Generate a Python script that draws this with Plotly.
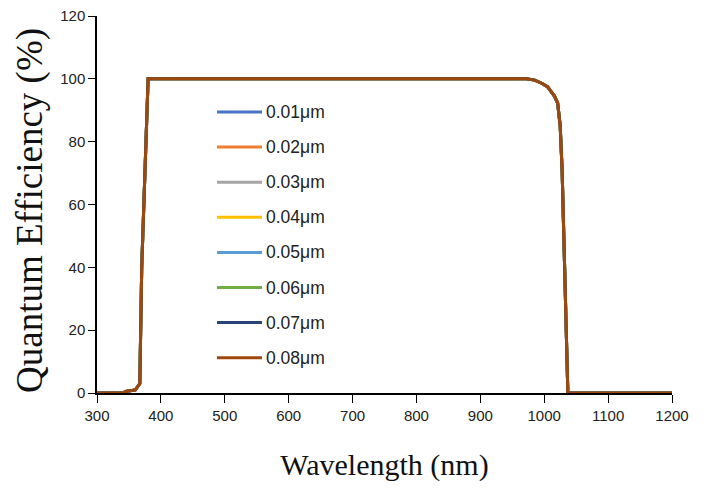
import plotly.graph_objects as go

# Quantum efficiency vs wavelength for several layer thicknesses
wavelength = [300, 340, 345, 360, 367, 370, 380, 500, 700, 900, 972, 985, 996, 1005, 1011, 1016, 1021, 1025, 1028, 1032, 1037, 1100, 1200]
qe = [0, 0, 0.5, 1, 3, 40, 100, 100, 100, 100, 100, 99.6, 98.6, 97.5, 96, 94.5, 92.3, 85, 71, 40, 0, 0, 0]

thickness_labels = ["0.01μm", "0.02μm", "0.03μm", "0.04μm", "0.05μm", "0.06μm", "0.07μm", "0.08μm"]
colors = ["#4472C4", "#ED7D31", "#A5A5A5", "#FFC000", "#5B9BD5", "#70AD47", "#264478", "#9E480E"]

W, H = 708, 490
ML, MR, MT, MB = 97, 36, 16, 97
PW, PH = W - ML - MR, H - MT - MB

fig = go.Figure()
for name, col in zip(thickness_labels, colors):
    fig.add_trace(go.Scatter(
        x=wavelength, y=qe, mode="lines", name=name,
        line=dict(color=col, width=3), showlegend=False,
    ))

# Pixel -> paper coordinate helpers for the in-plot legend and the y title
def px_x(px):
    return (px - ML) / PW

def px_y(py):
    return (H - MB - py) / PH

legend_font = dict(family="Liberation Sans, Arial", size=17.5, color="#222")
for i, (name, col) in enumerate(zip(thickness_labels, colors)):
    yy = px_y(112 + 35.1 * i)
    fig.add_shape(type="line", xref="paper", yref="paper",
                  x0=px_x(217), x1=px_x(262), y0=yy, y1=yy,
                  line=dict(color=col, width=3))
    fig.add_annotation(xref="paper", yref="paper", x=px_x(264), y=yy,
                       text=name, showarrow=False, xanchor="left", yanchor="middle",
                       font=legend_font)

# Vertical axis title
fig.add_annotation(xref="paper", yref="paper", x=px_x(30), y=px_y(211),
                   text="Quantum Efficiency (%)", textangle=-90, showarrow=False,
                   xanchor="center", yanchor="middle",
                   font=dict(family="Liberation Serif, Times New Roman", size=37, color="#111"))

tick_font = dict(family="Liberation Sans, Arial", size=15, color="#222")
fig.update_layout(
    width=W, height=H,
    margin=dict(l=ML, r=MR, t=MT, b=MB),
    paper_bgcolor="white", plot_bgcolor="white",
    showlegend=False,
    xaxis=dict(
        range=[300, 1200], tickvals=list(range(300, 1201, 100)),
        showline=True, linecolor="black", linewidth=1.5,
        ticks="outside", ticklen=8, tickcolor="black",
        showgrid=False, zeroline=False, tickfont=tick_font, automargin=False,
        title=dict(text="Wavelength (nm)", font=dict(family="Liberation Serif, Times New Roman", size=30, color="#111"), standoff=31),
    ),
    yaxis=dict(
        range=[0, 120], tickvals=list(range(0, 121, 20)),
        showline=True, linecolor="black", linewidth=1.5,
        ticks="outside", ticklen=7, tickcolor="black",
        showgrid=False, zeroline=False, tickfont=tick_font, automargin=False,
    ),
)

fig.write_html("out.html")
